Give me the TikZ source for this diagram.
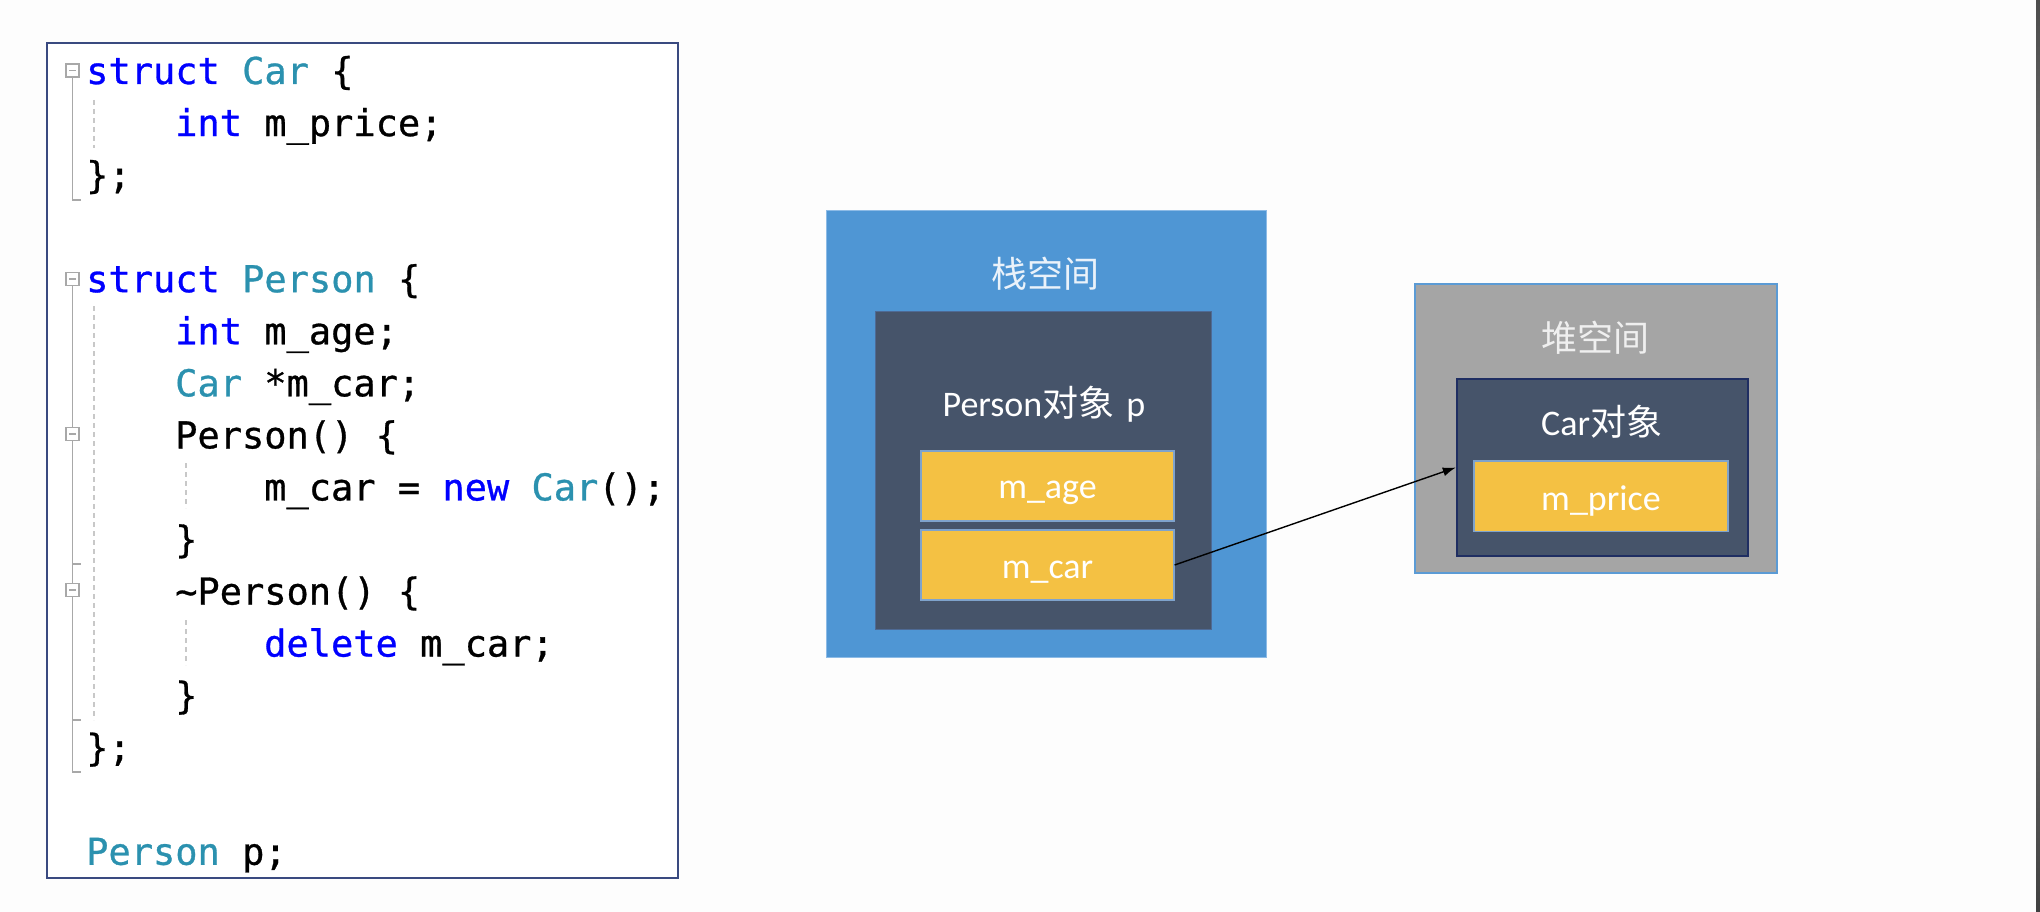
\documentclass[tikz,border=0pt]{standalone}
\usepackage{fontspec}
\setmainfont{Carlito}
\setmonofont[FakeBold=0.8]{DejaVu Sans Mono}
\newfontfamily\cjk{Noto Sans CJK SC}
\usetikzlibrary{arrows.meta}
\definecolor{bgcol}{HTML}{FDFDFD}
\definecolor{codeborder}{HTML}{3A4A80}
\definecolor{kwblue}{HTML}{0000FF}
\definecolor{tyteal}{HTML}{2B91AF}
\definecolor{gutter}{HTML}{A8A8A8}
\definecolor{guide}{HTML}{C8C8C8}
\definecolor{stackblue}{HTML}{4F96D4}
\definecolor{stackedge}{HTML}{8DBBE6}
\definecolor{darkobj}{HTML}{46546A}
\definecolor{darkedge}{HTML}{4E6A95}
\definecolor{gold}{HTML}{F4C143}
\definecolor{goldedge}{HTML}{7FA3CC}
\definecolor{heapgray}{HTML}{A5A5A5}
\definecolor{heapedge}{HTML}{5B9BD5}
\definecolor{navyedge}{HTML}{1F2E62}
\definecolor{stacklabel}{HTML}{EAF2FA}
\definecolor{heaplabel}{HTML}{EFEFEF}
\definecolor{barmid}{HTML}{8C8C8C}
\definecolor{bartop}{HTML}{4D4D4D}
\definecolor{barbot}{HTML}{404040}
\newcommand\codekw[1]{\textcolor{kwblue}{#1}}
\newcommand\codety[1]{\textcolor{tyteal}{#1}}
\begin{document}
\begin{tikzpicture}[x=1pt,y=-1pt,
  code/.style={anchor=base west,inner sep=0pt,font=\fontsize{37}{44}\selectfont\ttfamily,text=black},
  foldbox/.style={draw=gutter,fill=white,line width=1.2pt,minimum size=13pt,inner sep=0pt},
  foldline/.style={draw=gutter,line width=1.5pt},
  guideline/.style={draw=guide,line width=1.2pt,dash pattern=on 5pt off 4pt},
  membox/.style={fill=gold,draw=goldedge,line width=1.2pt,minimum width=253pt,minimum height=70pt,inner sep=0pt},
  lbl/.style={inner sep=0pt,font=\fontsize{36}{40}\selectfont,text=white},
  cjklbl/.style={inner sep=0pt,font=\fontsize{36}{40}\selectfont\cjk}
]
% background
\fill[bgcol] (0,0) rectangle (2040,912);
\shade[top color=bartop,bottom color=barbot,middle color=barmid] (2036,0) rectangle (2040,912);

% code box
\node[draw=codeborder,fill=white,line width=1.6pt,minimum width=631pt,minimum height=835pt,inner sep=0pt] (codebox) at (362.5,460.5) {};

% gutter guides
\draw[guideline] (94,100) -- (94,148);
\draw[guideline] (94,306) -- (94,720);
\draw[guideline] (186,463) -- (186,508);
\draw[guideline] (186,620) -- (186,665);

% fold boxes and lines
\node[foldbox] (f0) at (72.5,70.5) {};
\draw[foldline] (f0.south) -- (72.5,200) -- (81,200);
\node[foldbox] (f4) at (72.5,279) {};
\draw[foldline] (f4.south) -- (72.5,772) -- (81,772);
\coordinate (t9) at (72.5,564);
\coordinate (t12) at (72.5,720);
\draw[foldline] (t9) -- ++(8.5,0);
\draw[foldline] (t12) -- ++(8.5,0);
\node[foldbox] (f7) at (72.5,434) {};
\node[foldbox] (f10) at (72.5,590) {};
\foreach \f in {f0,f4,f7,f10}{
  \draw[gutter,line width=1.3pt] (\f.center) ++(-3.5,0) -- ++(7,0);
}

% code lines
\node[code] (l0) at (86,84) {\codekw{struct} \codety{Car} \{};
\node[code] (l1) at (175,136.05) {\codekw{int} m\_price;};
\node[code] (l2) at (86,188.1) {\};};
\node[code] (l4) at (86,292.2) {\codekw{struct} \codety{Person} \{};
\node[code] (l5) at (175,344.25) {\codekw{int} m\_age;};
\node[code] (l6) at (175,396.3) {\codety{Car} *m\_car;};
\node[code] (l7) at (175,448.35) {Person() \{};
\node[code] (l8) at (264,500.4) {m\_car = \codekw{new} \codety{Car}();};
\node[code] (l9) at (175,552.45) {\}};
\node[code] (l10) at (175,604.5) {\textasciitilde Person() \{};
\node[code] (l11) at (264,656.55) {\codekw{delete} m\_car;};
\node[code] (l12) at (175,708.6) {\}};
\node[code] (l13) at (86,760.65) {\};};
\node[code] (l15) at (86,864.75) {\codety{Person} p;};

% stack
\node[fill=stackblue,draw=stackedge,line width=1pt,minimum width=440pt,minimum height=446pt,inner sep=0pt] (stack) at (1046,434) {};
\node[cjklbl,text=stacklabel] (stacklbl) at (1045,274) {栈空间};
\node[fill=darkobj,draw=darkedge,line width=1pt,minimum width=336pt,minimum height=318pt,inner sep=0pt] (person) at (1043.7,470.9) {};
\node[lbl,anchor=base] (personlbl) at (1044,416) {Person{\cjk 对象}\hspace{4pt} p};
\node[membox] (mage) at (1047.5,485.9) {};
\node[lbl,anchor=base] (magelbl) at (1047.5,498) {m\_age};
\node[membox] (mcar) at (1047.5,565) {};
\node[lbl,anchor=base] (mcarlbl) at (1047.5,578) {m\_car};

% heap
\node[fill=heapgray,draw=heapedge,line width=1.8pt,minimum width=362pt,minimum height=289pt,inner sep=0pt] (heap) at (1596,428.5) {};
\node[cjklbl,text=heaplabel] (heaplbl) at (1595,338) {堆空间};
\node[fill=darkobj,draw=navyedge,line width=1.8pt,minimum width=291.6pt,minimum height=176.4pt,inner sep=0pt] (carobj) at (1602.5,467.5) {};
\node[lbl,anchor=base] (carlbl) at (1601.7,435) {Car{\cjk 对象}};
\node[membox,minimum width=254pt,minimum height=70.7pt] (mprice) at (1601,496.3) {};
\node[lbl,anchor=base] (mpricelbl) at (1601,510) {m\_price};

% pointer arrow
\draw[line width=1.4pt,-{Latex[length=13pt,width=9pt]}] (mcar.east) -- (carobj.west);
\end{tikzpicture}
\end{document}
